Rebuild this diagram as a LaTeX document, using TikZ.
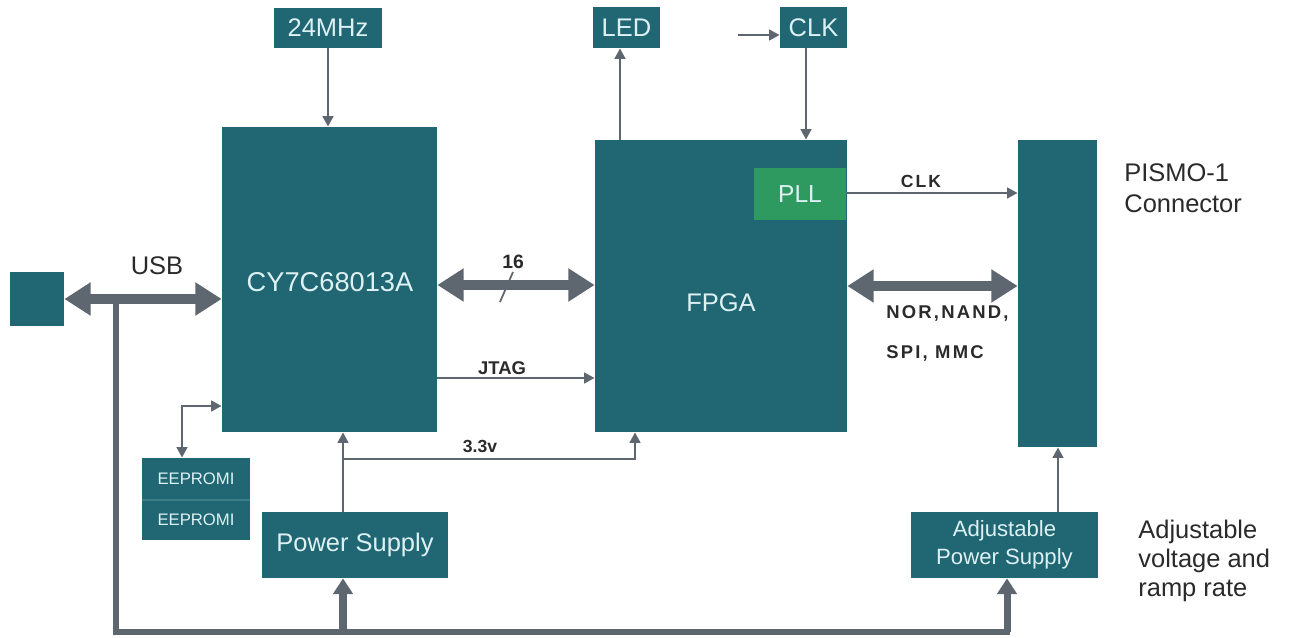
\documentclass[tikz,border=0pt]{standalone}
\usepackage{fontspec}
\setmainfont{Liberation Sans}
\usetikzlibrary{arrows.meta}
\definecolor{tealbox}{HTML}{216673}
\definecolor{pllgreen}{HTML}{2E9A60}
\definecolor{linegray}{HTML}{5E6670}
\definecolor{boxtxt}{HTML}{DDF1F3}
\definecolor{lbltxt}{HTML}{2A2A2A}
\definecolor{divcol}{HTML}{3F7E89}
\newcommand{\fsz}[2]{\fontsize{#1}{#2}\selectfont}
\newcommand{\spaced}{\addfontfeature{LetterSpace=12}}
\begin{document}
\begin{tikzpicture}[x=0.02cm,y=-0.02cm,
  sz/.style 2 args={minimum width=#1*0.02cm, minimum height=#2*0.02cm},
  blk/.style={fill=tealbox, text=boxtxt, inner sep=0pt, font=\fsz{14.5}{17}},
  lbl/.style={text=lbltxt, inner sep=0pt},
  thinarr/.style={draw=linegray, line width=1.6pt, -{Triangle[length=6pt,width=6pt]}},
  thinboth/.style={draw=linegray, line width=1.6pt, {Triangle[length=6pt,width=6pt]}-{Triangle[length=6pt,width=6pt]}},
  thickboth/.style={draw=linegray, line width=6.2pt, {Triangle[length=15pt,width=18pt]}-{Triangle[length=15pt,width=18pt]}},
  busline/.style={draw=linegray, line width=3.8pt},
  medarr/.style={draw=linegray, line width=4pt, -{Triangle[length=9pt,width=11pt]}}
]
\useasboundingbox (0,0) rectangle (1291,638);

% blocks
\node[blk, sz={54}{54}] (usb) at (37,299) {};
\node[blk, sz={215}{305}] (cy) at (329.5,279.5) {};
\node[lbl, text=boxtxt, font=\fsz{15.5}{18}] (cylbl) at (330,282) {CY7C68013A};
\node[blk, sz={108}{40}] (mhz) at (328,28) {24MHz};
\node[blk, sz={67}{41}] (led) at (626.5,27.5) {LED};
\node[blk, sz={67}{41}] (clkin) at (813.5,27.5) {CLK};
\node[blk, sz={252}{292}] (fpga) at (721,286) {};
\node[lbl, text=boxtxt, font=\fsz{14.5}{17}] (fpgalbl) at (721,303) {FPGA};
\node[blk, fill=pllgreen, sz={92}{52}, font=\fsz{14}{17}] (pll) at (800,194) {PLL};
\node[blk, sz={79}{307}] (pismo) at (1057.5,293.5) {};
\node[blk, sz={187}{66}, align=center, font=\fsz{12.6}{15.8}] (adj) at (1004.5,545) {Adjustable\\Power Supply};
\node[blk, sz={186}{66}] (ps) at (355,545) {Power Supply};
\node[blk, sz={108}{82}] (eeprom) at (196,499) {};
\draw[divcol, line width=0.6pt] (142,500) -- (250,500);
\node[lbl, text=boxtxt, font=\fsz{9.5}{11}] (ee1) at (196,479) {EEPROMI};
\node[lbl, text=boxtxt, font=\fsz{9.5}{11}] (ee2) at (196,520) {EEPROMI};

% outside labels
\node[lbl, font=\fsz{14.5}{17}] (usblbl) at (157,266) {USB};
\node[lbl, font=\bfseries\fsz{11}{13}] (l16) at (513,262) {16};
\node[lbl, font=\bfseries\fsz{10.5}{12}] (ljtag) at (502,368) {JTAG};
\node[lbl, font=\bfseries\fsz{10}{12}] (l33) at (480,446) {3.3v};
\node[lbl, font=\bfseries\fsz{10}{12}\spaced] (lclk) at (921,181) {CLK};
\node[lbl, font=\bfseries\fsz{10.5}{12}\spaced, anchor=west] (lnor) at (886,313) {NOR,NAND,};
\node[lbl, font=\bfseries\fsz{10.5}{12}\spaced, anchor=west] (lspi) at (886,353) {SPI, MMC};
\node[lbl, font=\fsz{14.5}{17.6}, align=left, anchor=west] (lpismo) at (1124,188) {PISMO-1\\Connector};
\node[lbl, font=\fsz{14.5}{16.3}, align=left, anchor=west] (ladj) at (1138,561) {Adjustable\\voltage and\\ramp rate};

% connectors
\draw[thickboth] (usb.east) -- (usb.east -| cy.west);
\coordinate (busT) at (116,300);
\coordinate (busBL) at (116,632);
\coordinate (adjin) at (1007,632);
\coordinate (psin) at (343,632);
\draw[busline] (busT) -- (busBL) -- ([xshift=1.9pt]adjin);
\draw[medarr] (psin) -- (psin |- ps.south);
\draw[medarr] (adjin) -- (adjin |- adj.south);
\draw[thinarr] (ps.north -| psin) -- (psin |- cy.south);
\coordinate (v33) at (343,459);
\coordinate (v33r) at (635,459);
\draw[thinarr] (v33) -- (v33r) -- (v33r |- fpga.south);
\draw[thinarr] (mhz.south) -- (mhz.south |- cy.north);
\coordinate (ledx) at (620,140);
\draw[thinarr] (ledx) -- (ledx |- led.south);
\coordinate (clksrc) at (738,35);
\draw[thinarr] (clksrc) -- (clksrc -| clkin.west);
\coordinate (clkx) at (806,48);
\draw[thinarr] (clkx |- clkin.south) -- (clkx |- fpga.north);
\coordinate (clkout) at (846,193);
\draw[thinarr] (clkout) -- (clkout -| pismo.west);
\coordinate (nor) at (847,286);
\draw[thickboth] (fpga.east |- nor) -- (pismo.west |- nor);
\coordinate (d16) at (500,285);
\draw[thickboth] (cy.east |- d16) -- (fpga.west |- d16);
\draw[linegray, line width=1pt] ([shift={(0,17)}]d16) -- ([shift={(13,-13)}]d16);
\coordinate (jt) at (500,378);
\draw[thinarr] (cy.east |- jt) -- (fpga.west |- jt);
\coordinate (adjout) at (1058,512);
\draw[thinarr] (adjout |- adj.north) -- (adjout |- pismo.south);
\coordinate (ee) at (182,406);
\draw[thinboth] (ee -| cy.west) -- (ee) -- (ee |- eeprom.north);
\end{tikzpicture}
\end{document}
